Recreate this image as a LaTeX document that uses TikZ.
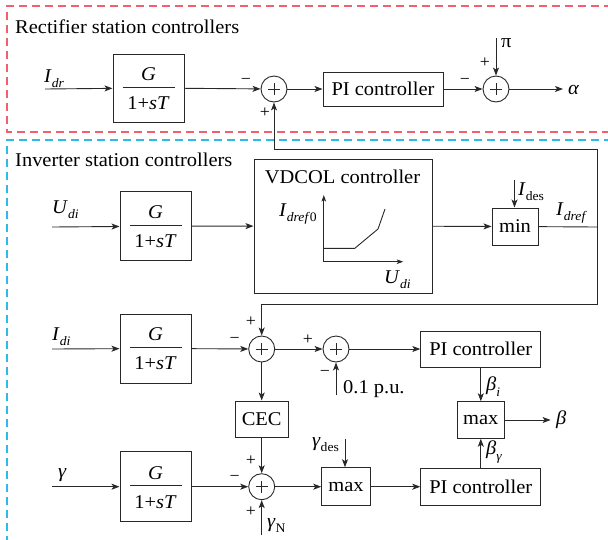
\documentclass[tikz,border=0pt]{standalone}
\usepackage{fontspec}
\setmainfont{Liberation Serif}[FakeStretch=1.05]
\usetikzlibrary{arrows.meta}
\newcommand\sbx[1]{\raisebox{-0.3em}{\fontsize{13}{13}\selectfont #1}}
\newcommand\lbl[2]{\textit{#1}\sbx{\textit{#2}}}
\definecolor{redbox}{RGB}{240,96,110}
\definecolor{bluebox}{RGB}{50,185,235}
\definecolor{ink}{RGB}{40,40,40}
\begin{document}
\begin{tikzpicture}[x=1pt,y=-1pt,font=\fontsize{19.5}{23}\selectfont,
  box/.style={draw=ink,line width=1pt,inner sep=0pt},
  gbox/.style={box,minimum width=71pt,minimum height=69pt},
  pibox/.style={box,minimum width=120pt,minimum height=36pt},
  sumn/.style={draw=ink,circle,line width=0.9pt,minimum size=26pt,inner sep=0pt,
    path picture={\draw[line width=0.5pt] ([xshift=-6pt]path picture bounding box.center) -- ([xshift=6pt]path picture bounding box.center);
                  \draw[line width=0.5pt] ([yshift=-6pt]path picture bounding box.center) -- ([yshift=6pt]path picture bounding box.center);}},
  conn/.style={draw=ink,line width=0.9pt,-{Stealth[length=8pt,width=6pt,inset=2pt]}},
  axis/.style={draw=ink,line width=0.9pt,-{Stealth[length=6.5pt,width=4.5pt,inset=1.5pt]}},
  wire/.style={draw=ink,line width=0.9pt},
  sgn/.style={font=\fontsize{17}{17}\selectfont,inner sep=0pt},
  lab/.style={inner sep=0pt},
  frame/.style={line width=1.1pt,dash pattern=on 8pt off 5pt}]
\useasboundingbox (0,0) rectangle (608,539);

% dashed frames
\draw[frame,redbox] (612,6) -- (7,6) -- (7,132) -- (612,132);
\draw[frame,bluebox] (612,140) -- (7,140) -- (7,545);
\node[lab,anchor=base west] (t1) at (15,33) {Rectifier station controllers};
\node[lab,anchor=base west] (t2) at (15,166) {Inverter station controllers};

% ---------- row 1
\coordinate (idr) at (45,89);
\node[lab,anchor=base west] (lidr) at (44,82) {\lbl{I}{dr}};
\node[gbox,minimum height=68pt] (g1) at (148.5,88) {};
\node[sumn] (s1) at (274,89) {};
\node[pibox,minimum height=34pt] (pi1) at (383,89) {PI controller};
\node[sumn] (s2) at (496,89) {};
\coordinate (alpha) at (563,89);
\node[lab,anchor=west] (lalpha) at (568,90) {\textit{α}};
\coordinate (pic) at (496,38);
\node[lab,anchor=west] (lpi) at (501,43) {π};
\draw[conn] (idr) -- (g1);
\draw[conn] (g1) -- (s1);
\draw[conn] (s1) -- (pi1);
\draw[conn] (pi1) -- (s2);
\draw[conn] (s2) -- (alpha);
\draw[conn] (pic) -- (s2);
\node[sgn] (m1) at (246,81) {−};
\node[sgn] (p1) at (265,113) {+};
\node[sgn] (m2) at (465,81) {−};
\node[sgn] (p2) at (485,63) {+};

% ---------- row 2
\coordinate (udi) at (52,227);
\node[lab,anchor=base west] (ludi) at (52,213) {\lbl{U}{di}};
\node[gbox] (g2) at (155.5,226.2) {};
\node[box,minimum width=178pt,minimum height=134pt] (vd) at (343,226) {};
\node[lab] (vdt) at (342.5,177) {VDCOL controller};
\coordinate (o) at (323.8,261.7);
\coordinate (yax) at (323.8,195);
\coordinate (xax) at (403.3,261.7);
\draw[axis] (o) -- (yax);
\draw[axis] (o) -- (xax);
\draw[wire] (323.8,248.3) -- (354.8,248.3) -- (378,229) -- (385,209);
\node[lab,anchor=base west] (lid0) at (279,216) {\textit{I}\sbx{\textit{dref}0}};
\node[lab,anchor=base west] (lud2) at (384,283) {\lbl{U}{di}};
\node[box,minimum width=46pt,minimum height=37pt] (mn) at (515,226.5) {min};
\coordinate (ides) at (514.5,180);
\node[lab,anchor=base west] (lides) at (518,195) {\textit{I}\sbx{des}};
\node[lab,anchor=base west] (lidref) at (556,215) {\lbl{I}{dref}};
\coordinate (j1) at (597,227);
\coordinate (c1) at (274,149);
\coordinate (c2) at (597,149);
\coordinate (c3) at (597,304);
\coordinate (c4) at (261.7,304);
\draw[conn] (udi) -- (g2);
\draw[conn] (g2) -- (vd);
\draw[conn] (vd) -- (mn);
\draw[conn] (ides) -- (ides |- mn.north);
\draw[wire] (mn) -- (j1);

% ---------- row 3
\coordinate (idi) at (52,349);
\node[lab,anchor=base west] (lidi) at (52,340) {\lbl{I}{di}};
\node[gbox] (g3) at (155.5,348.5) {};
\node[sumn] (s3) at (261.7,349) {};
\node[sumn] (s4) at (336,349) {};
\node[pibox] (pi2) at (480.8,349) {PI controller};
\coordinate (pu) at (336,395);
\node[lab,anchor=base west] (lpu) at (343,393) {0.1 p.u.};
\node[box,minimum width=53pt,minimum height=36pt] (cec) at (261.7,419) {CEC};
\draw[conn] (idi) -- (g3);
\draw[conn] (g3) -- (s3);
\draw[conn] (s3) -- (s4);
\draw[conn] (s4) -- (pi2);
\draw[conn] (pu) -- (s4);
\draw[conn] (s3) -- (cec);
\draw[conn] (j1) -- (c2) -- (c1) -- (s1);
\draw[conn] (j1) -- (c3) -- (c4) -- (s3);
\node[sgn] (m3) at (234.6,340) {−};
\node[sgn] (p3) at (251,322) {+};
\node[sgn] (p4) at (308,340) {+};
\node[sgn] (m4) at (325,373) {−};

% ---------- row 4
\node[box,minimum width=46.5pt,minimum height=36.5pt] (mx2) at (480.8,420) {max};
\coordinate (beta) at (550.6,420);
\node[lab,anchor=west] (lbeta) at (556,420) {\textit{β}};
\node[lab,anchor=west] (lbi) at (486,387) {\lbl{β}{i}};
\node[lab,anchor=west] (lbg) at (486,452) {\lbl{β}{γ}};
\coordinate (gam) at (52,486.7);
\node[lab,anchor=base west] (lgam) at (58,477) {\textit{γ}};
\node[gbox,minimum height=70pt] (g4) at (155.5,486.7) {};
\node[sumn] (s5) at (261.7,486.7) {};
\coordinate (gn) at (261.7,535);
\node[lab,anchor=base west] (lgn) at (267,527) {\textit{γ}\sbx{N}};
\node[box,minimum width=48.5pt,minimum height=38pt] (mx3) at (346,486.7) {max};
\coordinate (gd) at (345,439);
\node[lab,anchor=base west] (lgd) at (312,446) {\textit{γ}\sbx{des}};
\node[pibox,minimum height=37pt] (pi3) at (480.8,486.7) {PI controller};
\draw[conn] (gam) -- (g4);
\draw[conn] (g4) -- (s5);
\draw[conn] (cec) -- (s5);
\draw[conn] (gn) -- (s5);
\draw[conn] (s5) -- (mx3);
\draw[conn] (gd) -- (gd |- mx3.north);
\draw[conn] (mx3) -- (pi3);
\draw[conn] (pi3) -- (mx2);
\draw[conn] (pi2) -- (mx2);
\draw[conn] (mx2) -- (beta);
\node[sgn] (m5) at (234.6,478) {−};
\node[sgn] (p5) at (251,461) {+};
\node[sgn] (p6) at (251,512) {+};

% ---------- fractions in G boxes
\foreach \g in {g1,g2,g3,g4}{
  \node[lab] at ([yshift=14pt]\g.center) {\textit{G}};
  \draw[line width=0.9pt,ink] ([xshift=-26pt,yshift=1pt]\g.center) -- ([xshift=26pt,yshift=1pt]\g.center);
  \node[lab] at ([yshift=-15pt]\g.center) {1+\textit{sT}};
}
\end{tikzpicture}
\end{document}
